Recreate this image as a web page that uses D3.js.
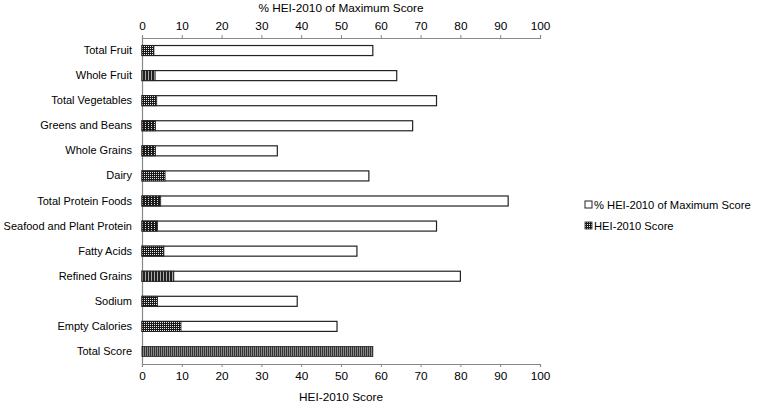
<!DOCTYPE html>
<html><head><meta charset="utf-8">
<script src="https://cdn.jsdelivr.net/npm/d3@7"></script>
<style>
body{margin:0;background:#fff;}
text{font-family:"Liberation Sans",Arial,sans-serif;fill:#000;}
</style></head>
<body>
<svg id="c" width="757" height="405"></svg>
<script>
const categories = ["Total Fruit","Whole Fruit","Total Vegetables","Greens and Beans","Whole Grains","Dairy","Total Protein Foods","Seafood and Plant Protein","Fatty Acids","Refined Grains","Sodium","Empty Calories","Total Score"];
const pctOfMax = [58,64,74,68,34,57,92,74,54,80,39,49,58];
const heiScore = [3.0,3.3,3.7,3.4,3.4,5.8,4.7,3.9,5.5,8.0,3.9,9.8,58.0];
const ticks = [0,10,20,30,40,50,60,70,80,90,100];
const seriesNames = ["% HEI-2010 of Maximum Score","HEI-2010 Score"];

const svg = d3.select("#c");
const defs = svg.append("defs");
const pd = defs.append("pattern").attr("id","pDots").attr("width",2).attr("height",2).attr("patternUnits","userSpaceOnUse");
pd.append("rect").attr("width",2).attr("height",2).attr("fill","#1a1a1a");
pd.append("rect").attr("width",1).attr("height",1).attr("fill","#e8e8e8");
const pv = defs.append("pattern").attr("id","pVert").attr("width",3).attr("height",3).attr("patternUnits","userSpaceOnUse");
pv.append("rect").attr("width",3).attr("height",3).attr("fill","#222");
pv.append("rect").attr("x",1).attr("width",1).attr("height",3).attr("fill","#aaa");
const pg = defs.append("pattern").attr("id","pGrid").attr("width",3).attr("height",2).attr("patternUnits","userSpaceOnUse");
pg.append("rect").attr("width",3).attr("height",2).attr("fill","#1a1a1a");
pg.append("rect").attr("x",1).attr("width",1).attr("height",1).attr("fill","#ddd");
const pt = defs.append("pattern").attr("id","pTot").attr("width",2).attr("height",2).attr("patternUnits","userSpaceOnUse");
pt.append("rect").attr("width",2).attr("height",2).attr("fill","#333");
pt.append("rect").attr("x",1).attr("width",1).attr("height",2).attr("fill","#888");

const patternFor = ["pDots","pVert","pDots","pGrid","pGrid","pDots","pGrid","pGrid","pDots","pVert","pDots","pDots","pTot"];

const x = d3.scaleLinear().domain([0,100]).range([142,540]);
const y = d3.scaleBand().domain(categories).range([38,364]).paddingInner(0.6).paddingOuter(0.3);

const font = "Liberation Sans, Arial, sans-serif";
const axTop = svg.append("g").attr("transform","translate(0,38)")
  .call(d3.axisTop(x).tickValues(ticks).tickSize(3).tickPadding(5));
const axBot = svg.append("g").attr("transform","translate(0,364)")
  .call(d3.axisBottom(x).tickValues(ticks).tickSize(3).tickPadding(5));
[axTop,axBot].forEach(a=>{
  a.select(".domain").attr("stroke","#888").attr("stroke-width",1.2);
  a.selectAll(".tick line").attr("stroke","#888");
  a.selectAll(".tick text").attr("font-size",11.8).attr("fill","#000").style("font-family",font);
});
const axL = svg.append("g").attr("transform","translate(142,0)")
  .call(d3.axisLeft(y).tickSize(0).tickPadding(10));
axL.select(".domain").attr("stroke","#888").attr("stroke-width",1.2);
axL.selectAll(".tick text").attr("font-size",11).attr("fill","#000").style("font-family",font);

svg.append("g").selectAll("rect").data(categories.slice(0,-1)).join("rect")
  .attr("x",x(0)).attr("y",d=>y(d)).attr("height",y.bandwidth())
  .attr("width",(d,i)=>x(pctOfMax[i])-x(0))
  .attr("fill","#fff").attr("stroke","#222").attr("stroke-width",1.2);
svg.append("g").selectAll("rect").data(categories).join("rect")
  .attr("x",x(0)).attr("y",d=>y(d)).attr("height",y.bandwidth())
  .attr("width",(d,i)=>x(heiScore[i])-x(0))
  .attr("fill",(d,i)=>`url(#${patternFor[i]})`).attr("stroke","#222").attr("stroke-width",0.8);

svg.append("text").attr("x",341).attr("y",12).attr("text-anchor","middle").attr("font-size",11.8).text(seriesNames[0]);
svg.append("text").attr("x",341).attr("y",401).attr("text-anchor","middle").attr("font-size",11.8).text(seriesNames[1]);

const lg = svg.append("g").attr("transform","translate(585,0)");
lg.append("rect").attr("x",0).attr("y",201).attr("width",7).attr("height",7).attr("fill","#fff").attr("stroke","#222").attr("stroke-width",1);
lg.append("text").attr("x",9).attr("y",208.5).attr("font-size",11.2).text(seriesNames[0]);
lg.append("rect").attr("x",0).attr("y",222).attr("width",7).attr("height",7).attr("fill","url(#pDots)").attr("stroke","#222").attr("stroke-width",0.8);
lg.append("text").attr("x",9).attr("y",229.5).attr("font-size",11.2).text(seriesNames[1]);
</script>
</body></html>
